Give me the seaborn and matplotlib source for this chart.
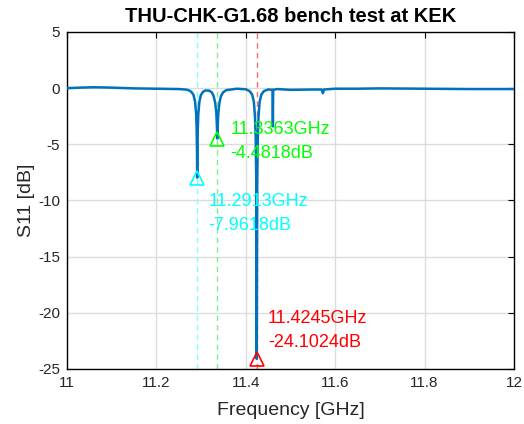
import matplotlib
matplotlib.use("Agg")
import matplotlib.pyplot as plt
import seaborn as sns
import pandas as pd

# ---- data ----
freq_ghz = [11.000, 11.030, 11.060, 11.090, 11.120, 11.150, 11.200, 11.250, 11.265,
            11.272, 11.278, 11.283, 11.2865, 11.289, 11.290, 11.2907, 11.2913, 11.2919,
            11.2926, 11.2938, 11.2962, 11.2996, 11.3045, 11.310,
            11.318, 11.324, 11.328, 11.3315, 11.334, 11.3352, 11.3363, 11.3374, 11.3386,
            11.341, 11.3445, 11.349, 11.356, 11.380, 11.400,
            11.408, 11.414, 11.418, 11.4205, 11.4222, 11.4235, 11.4245, 11.4255, 11.4268,
            11.4285, 11.431, 11.435, 11.441, 11.450,
            11.4600, 11.4606, 11.4612, 11.470, 11.500, 11.550, 11.570, 11.5725, 11.575,
            11.600, 11.650, 11.700, 11.800, 11.900, 12.000]
s11_db = [0.00, 0.05, 0.08, 0.06, 0.02, -0.02, -0.05, -0.08, -0.12,
          -0.18, -0.32, -0.60, -1.20, -2.30, -3.60, -5.20, -7.9618, -5.20,
          -3.60, -2.30, -1.20, -0.60, -0.32, -0.20,
          -0.22, -0.38, -0.70, -1.30, -2.20, -3.20, -4.4818, -3.20, -2.20,
          -1.30, -0.70, -0.38, -0.18, -0.05, -0.10,
          -0.25, -0.55, -1.20, -2.50, -4.50, -8.50, -24.1024, -8.50, -4.50,
          -2.50, -1.20, -0.55, -0.25, -0.12,
          -0.15, -3.40, -0.15, -0.08, -0.15, -0.12, -0.12, -0.45, -0.12,
          -0.05, -0.05, -0.02, -0.05, -0.08, -0.08]

marker_freq = [11.2913, 11.3363, 11.4245]
marker_db = [-7.9618, -4.4818, -24.1024]
marker_colors = ["#00FFFF", "#00FF00", "#FF0000"]
line_colors = ["#80FFFF", "#80F080", "#F07070"]
text_colors = ["#00FFFF", "#00FF00", "#FF0000"]
text_offsets_px = [(11, -36), (13, -3), (11, 28)]

x_ticks = [11.0, 11.2, 11.4, 11.6, 11.8, 12.0]
x_tick_labels = ["11", "11.2", "11.4", "11.6", "11.8", "12"]
y_ticks = [-25, -20, -15, -10, -5, 0, 5]

title = "THU-CHK-G1.68 bench test at KEK"
x_label = "Frequency [GHz]"
y_label = "S11 [dB]"

# ---- style ----
sns.set_theme(style="white")
plt.rcParams["font.family"] = ["Liberation Sans", "DejaVu Sans"]
plt.rcParams["axes.unicode_minus"] = False

fig = plt.figure(figsize=(5.24, 4.24), dpi=100)
ax = fig.add_axes([67 / 524, 55 / 424, 447 / 524, 337 / 424])

# grid
ax.set_axisbelow(True)
ax.grid(True, color="#DCDCDC", linewidth=1.0)

# vertical dashed marker lines
for f, c in zip(marker_freq, line_colors):
    ax.axvline(f, color=c, linestyle=(0, (4, 3)), linewidth=1.0, zorder=1.5)

df = pd.DataFrame({"f": freq_ghz, "s": s11_db})
sns.lineplot(data=df, x="f", y="s", ax=ax, color="#0072BD", linewidth=1.8,
             estimator=None, sort=True, zorder=3)

for f, d, mc, tc, off in zip(marker_freq, marker_db, marker_colors, text_colors, text_offsets_px):
    ax.plot([f], [d], marker="^", markersize=10, markerfacecolor="none",
            markeredgecolor=mc, markeredgewidth=1.2, linestyle="none", zorder=4)
    ax.annotate(f"{f:.4f}GHz\n{d:.4f}dB", xy=(f, d), xytext=off,
                textcoords="offset pixels", ha="left", va="center",
                color=tc, fontsize=13, linespacing=1.55, zorder=5)

ax.set_xlim(11, 12)
ax.set_ylim(-25, 5)
ax.set_xticks(x_ticks)
ax.set_xticklabels(x_tick_labels)
ax.set_yticks(y_ticks)
ax.tick_params(direction="in", length=4, width=0.8, top=True, right=True,
               labelsize=11, colors="black", labelcolor="#262626", pad=5)
for sp in ax.spines.values():
    sp.set_color("black")
    sp.set_linewidth(1.0)

ax.set_xlabel(x_label, fontsize=14, color="#262626", labelpad=9)
ax.set_ylabel(y_label, fontsize=14, color="#262626", labelpad=2)
ax.set_title(title, fontsize=14.5, fontweight="bold", color="black", pad=7)

fig.savefig("out.png", dpi=100)
